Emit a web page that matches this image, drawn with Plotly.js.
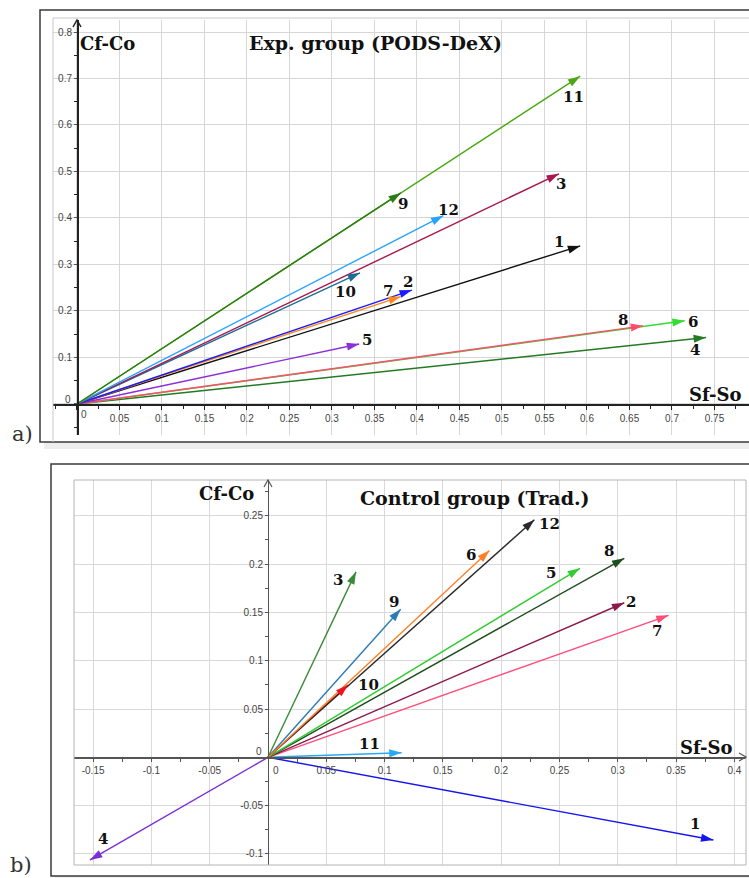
<!DOCTYPE html>
<html><head><meta charset="utf-8">
<script src="https://cdn.plot.ly/plotly-3.0.1.min.js"></script>
<style>html,body{margin:0;padding:0;background:#fff}#chart{width:749px;height:878px}</style>
</head><body><div id="chart"></div>
<script>
// ---------- data ----------
const vectorIds = ['1','2','3','4','5','6','7','8','9','10','11','12'];

// a) Experimental group (PODS-DeX): end points of each vector (Sf-So, Cf-Co)
const expSfSo = [0.592, 0.394, 0.567, 0.740, 0.332, 0.715, 0.381, 0.666, 0.381, 0.333, 0.592, 0.431];
const expCfCo = [0.340, 0.245, 0.495, 0.143, 0.129, 0.179, 0.231, 0.168, 0.454, 0.282, 0.705, 0.405];

// b) Control group (Trad.)
const ctlSfSo = [0.382, 0.3056, 0.0755, -0.1527, 0.2676, 0.190, 0.3436, 0.3056, 0.1138, 0.0686, 0.1146, 0.2285];
const ctlCfCo = [-0.0856, 0.160, 0.192, -0.1063, 0.1957, 0.214, 0.147, 0.206, 0.1532, 0.0748, 0.0047, 0.246];

// tick labels
const expXTickVals = [0,0.05,0.1,0.15,0.2,0.25,0.3,0.35,0.4,0.45,0.5,0.55,0.6,0.65,0.7,0.75];
const expXTickText = ['','0.05','0.1','0.15','0.2','0.25','0.3','0.35','0.4','0.45','0.5','0.55','0.6','0.65','0.7','0.75'];
const expYTickVals = [0,0.1,0.2,0.3,0.4,0.5,0.6,0.7,0.8];
const expYTickText = ['','0.1','0.2','0.3','0.4','0.5','0.6','0.7','0.8'];
const ctlXTickVals = [-0.15,-0.1,-0.05,0,0.05,0.1,0.15,0.2,0.25,0.3,0.35,0.4];
const ctlXTickText = ['-0.15','-0.1','-0.05','','0.05','0.1','0.15','0.2','0.25','0.3','0.35','0.4'];
const ctlYTickVals = [-0.1,-0.05,0,0.05,0.1,0.15,0.2,0.25];
const ctlYTickText = ['-0.1','-0.05','','0.05','0.1','0.15','0.2','0.25'];

const texts = {
  expTitle: 'Exp. group (PODS-DeX)',
  ctlTitle: 'Control group (Trad.)',
  yTitle: 'Cf-Co',
  xTitle: 'Sf-So',
  zero: '0',
  panelA: 'a)',
  panelB: 'b)'
};

// ---------- styles ----------
const expColors = ['#111111','#1a1aff','#a8174f','#237a23','#8b2fd8','#33dd33','#ff8a1a','#ff4d6d','#2b7d13','#1b6f96','#4aa812','#29a3ff'];
const ctlColors = ['#1515ee','#8b1a4a','#3a8a3a','#7a2fd6','#30cc30','#ff7f27','#ff4d7a','#1e4d1e','#2b7bb5','#ee1122','#29a8f5','#2a2a2a'];
const expOrder = [4,6,8,5,1,7,2,10,3,12,11,9];
const ctlOrder = [1,4,11,7,2,8,5,3,9,10,12,6];
// label offsets in pixels [dx, dy(down)]
const expLabelOff = [[-21,-4],[-4,-8],[2,10],[-11,13],[8,-4],[8,1],[-13,-6],[-20,-6],[2,11],[-15,19],[-7,21],[5,-6]];
const ctlLabelOff = [[-18,-16],[7,-1],[-18,8],[13,-21],[-29,5],[-19,4],[-12,16],[-15,-7],[-7,-7],[21,0],[-32,-9],[15,4]];

const W = 749, H = 878;
const px = x => x / W;
const py = y => 1 - y / H;

const traces = [];
function addVectors(xs, ys, colors, order, xa, ya) {
  // shafts first
  order.forEach(k => {
    const i = k - 1;
    traces.push({
      type: 'scatter', mode: 'lines',
      x: [0, xs[i]], y: [0, ys[i]],
      xaxis: xa, yaxis: ya,
      line: {color: colors[i], width: 1.4, backoff: 4},
      cliponaxis: false, hoverinfo: 'skip', showlegend: false, name: vectorIds[i]
    });
  });
  // arrow heads on top
  order.forEach(k => {
    const i = k - 1;
    traces.push({
      type: 'scatter', mode: 'markers',
      x: [0, xs[i]], y: [0, ys[i]],
      xaxis: xa, yaxis: ya,
      marker: {symbol: 'arrow', size: 13, angleref: 'previous', color: colors[i]},
      cliponaxis: false, hoverinfo: 'skip', showlegend: false, name: vectorIds[i]
    });
  });
}
addVectors(expSfSo, expCfCo, expColors, expOrder, 'x', 'y');
addVectors(ctlSfSo, ctlCfCo, ctlColors, ctlOrder, 'x2', 'y2');

const tickFont = {family: 'Liberation Sans, Arial, sans-serif', size: 10, color: '#444'};
const serifBold = (size) => ({family: 'DejaVu Serif, serif', size: size, color: '#111', weight: 700});

const annotations = [];
function addLabels(xs, ys, offs, xa, ya) {
  vectorIds.forEach((id, i) => {
    annotations.push({
      x: xs[i], y: ys[i], xref: xa, yref: ya, text: id, showarrow: false,
      xshift: offs[i][0], yshift: -offs[i][1], font: serifBold(15)
    });
  });
}
addLabels(expSfSo, expCfCo, expLabelOff, 'x', 'y');
addLabels(ctlSfSo, ctlCfCo, ctlLabelOff, 'x2', 'y2');

function paperText(text, x, y, font, xanchor) {
  annotations.push({x: px(x), y: py(y), xref: 'paper', yref: 'paper', text: text,
    showarrow: false, font: font, xanchor: xanchor || 'center', yanchor: 'middle'});
}
paperText(texts.expTitle, 375, 43, serifBold(19));
paperText(texts.ctlTitle, 475, 498, serifBold(19));
paperText(texts.yTitle, 107, 43, serifBold(18));
paperText(texts.xTitle, 715, 394, serifBold(18));
paperText(texts.yTitle, 226, 493, serifBold(18));
paperText(texts.xTitle, 706, 747, serifBold(18));
paperText(texts.zero, 68, 399, tickFont);
paperText(texts.zero, 84, 414, tickFont);
paperText(texts.zero, 259, 751, tickFont);
paperText(texts.zero, 276, 770, tickFont);
paperText(texts.panelA, 22, 434, {family: 'DejaVu Serif, serif', size: 21, color: '#333'});
paperText(texts.panelB, 21, 865, {family: 'DejaVu Serif, serif', size: 21, color: '#333'});

function rect(x0, y0, x1, y1, line, fill, layer) {
  return {type: 'rect', xref: 'paper', yref: 'paper', x0: px(x0), x1: px(x1), y0: py(y1), y1: py(y0),
    line: line, fillcolor: fill || 'rgba(0,0,0,0)', layer: layer || 'above'};
}
function path(pts, color, width) {
  const d = pts.map((p, j) => (j ? 'L' : 'M') + px(p[0]) + ',' + py(p[1])).join(' ');
  return {type: 'path', xref: 'paper', yref: 'paper', path: d, line: {color: color, width: width}, layer: 'above'};
}
const shapes = [
  // shadows
  rect(44, 442, 760, 449, {width: 0}, 'rgba(0,0,0,0.07)', 'below'),
  rect(55, 876, 760, 878, {width: 0}, 'rgba(0,0,0,0.07)', 'below'),
  // panel frames
  rect(40, 10, 760, 442, {color: '#3a3a3a', width: 1.5}),
  rect(51, 464, 760, 876, {color: '#3a3a3a', width: 1.5}),
  // grid area borders
  path([[53, 442], [53, 18], [760, 18]], '#c8c8c8', 1),
  rect(74, 480, 746, 865, {color: '#b4b4b4', width: 1}),
  // axis arrow carets
  path([[73, 27], [77, 20], [81, 27]], '#222', 1.5),
  path([[264, 487], [268, 480], [272, 487]], '#555', 1.2),
  path([[739, 753], [746, 757], [739, 761]], '#555', 1.2)
];

const gridA = '#d6d6d6', gridB = '#d9d9d9';
const layout = {
  width: W, height: H,
  margin: {l: 0, r: 0, t: 0, b: 0, pad: 0},
  paper_bgcolor: '#ffffff', plot_bgcolor: 'rgba(0,0,0,0)',
  showlegend: false,
  xaxis: {
    domain: [px(53), 1], range: [-0.0282, 0.7906],
    anchor: 'free', position: py(404),
    tickmode: 'array', tickvals: expXTickVals, ticktext: expXTickText,
    showgrid: true, gridcolor: gridA, gridwidth: 1, zeroline: false,
    showline: true, linecolor: '#222', linewidth: 1.5,
    ticks: 'outside', ticklen: 4, tickcolor: '#222', tickfont: tickFont,
    minor: {tickmode: 'linear', tick0: 0, dtick: 0.025, ticklen: 3, tickcolor: '#222', showgrid: false},
    fixedrange: true
  },
  yaxis: {
    domain: [py(435), py(20)], range: [-0.0667, 0.8258],
    anchor: 'free', position: px(77),
    tickmode: 'array', tickvals: expYTickVals, ticktext: expYTickText,
    showgrid: true, gridcolor: gridA, gridwidth: 1, zeroline: false,
    showline: true, linecolor: '#222', linewidth: 1.5,
    ticks: 'outside', ticklen: 3, tickcolor: '#555', tickfont: tickFont,
    minor: {tickmode: 'linear', tick0: 0, dtick: 0.05, ticklen: 3, tickcolor: '#222', showgrid: false},
    fixedrange: true
  },
  xaxis2: {
    domain: [px(74), px(746)], range: [-0.1664, 0.41],
    anchor: 'free', position: py(757.3),
    tickmode: 'array', tickvals: ctlXTickVals, ticktext: ctlXTickText,
    showgrid: true, gridcolor: gridB, gridwidth: 1, zeroline: false,
    showline: true, linecolor: '#555', linewidth: 1.2,
    ticks: 'outside', ticklen: 3, tickcolor: '#555', tickfont: tickFont,
    minor: {tickmode: 'linear', tick0: 0, dtick: 0.025, ticklen: 3, tickcolor: '#555', showgrid: false},
    fixedrange: true
  },
  yaxis2: {
    domain: [py(865), py(480)], range: [-0.1115, 0.2871],
    anchor: 'free', position: px(268),
    tickmode: 'array', tickvals: ctlYTickVals, ticktext: ctlYTickText,
    showgrid: true, gridcolor: gridB, gridwidth: 1, zeroline: false,
    showline: true, linecolor: '#555', linewidth: 1.2,
    ticks: 'outside', ticklen: 3, tickcolor: '#555', tickfont: tickFont,
    minor: {tickmode: 'linear', tick0: 0, dtick: 0.025, ticklen: 3, tickcolor: '#555', showgrid: false},
    fixedrange: true
  },
  annotations: annotations,
  shapes: shapes
};

Plotly.newPlot('chart', traces, layout, {staticPlot: true, displayModeBar: false});
</script>
</body></html>
